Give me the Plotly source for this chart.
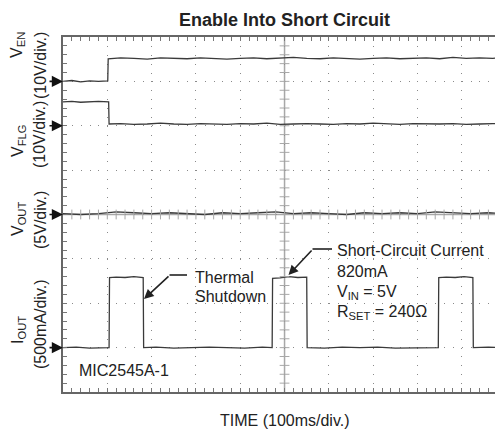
import numpy as np
import plotly.graph_objects as go

# ---------------- data (time in ms, values in physical units) ----------------
VEN_t = [0, 20, 40, 60, 80, 101, 102, 130, 160, 190, 220, 250, 280, 310, 340, 370, 400,
         430, 460, 490, 520, 550, 580, 610, 640, 670, 700, 730, 760, 790, 820, 850, 880,
         910, 940, 970, 995]
VEN_v = [0.0, 0.2, -0.1, 0.1, 0.0, 0.1,
         5.1, 5.3, 5.2, 5.0, 5.3, 5.2, 5.1, 5.3, 5.2, 5.0, 5.2, 5.3, 5.1, 5.2, 5.4,
         5.2, 5.1, 5.3, 5.2, 5.0, 5.2, 5.3, 5.1, 5.2, 5.3, 5.1, 5.4, 5.2, 5.3, 5.2, 5.3]

VFLG_t = [0, 20, 40, 60, 80, 103, 104, 130, 160, 190, 220, 250, 280, 310, 340, 370, 400,
          430, 460, 490, 520, 550, 580, 610, 640, 670, 700, 730, 760, 790, 820, 850, 880,
          910, 940, 970, 995]
VFLG_v = [5.4, 5.5, 5.3, 5.4, 5.5, 5.4,
          0.4, 0.5, 0.3, 0.4, 0.6, 0.4, 0.3, 0.5, 0.4, 0.3, 0.5, 0.4, 0.6, 0.3, 0.4,
          0.5, 0.4, 0.3, 0.5, 0.4, 0.6, 0.4, 0.3, 0.5, 0.4, 0.4, 0.5, 0.3, 0.4, 0.5, 0.4]

VOUT_t = [0, 40, 80, 120, 160, 200, 240, 280, 320, 360, 400, 440, 480, 520, 560, 600,
          640, 680, 720, 760, 800, 840, 880, 920, 960, 995]
VOUT_v = [0.1, 0.0, 0.1, 0.3, 0.2, 0.1, 0.2, 0.1, 0.0, 0.2, 0.1, 0.2, 0.3, 0.1, 0.2,
          0.1, 0.0, 0.2, 0.1, 0.2, 0.1, 0.3, 0.2, 0.1, 0.2, 0.1]

IOUT_t = [0, 30, 60, 90, 104, 105, 120, 140, 160, 181, 182, 210, 250, 290, 330, 370, 410,
          450, 472, 473, 490, 510, 530, 550, 551, 590, 630, 670, 710, 750, 790, 830, 847,
          848, 865, 885, 905, 925, 926, 960, 995]
IOUT_v = [0, 5, -5, 0, 0, 790, 795, 790, 800, 790, 0, 5, -5, 0, 5, 0, -5, 5, 0, 780,
          785, 800, 790, 795, 0, -5, 5, 0, 5, -5, 0, 5, 0, 790, 795, 790, 800, 790, 0, 5, 0]

# channel ground levels (divisions from bottom) and scales (units / div)
VEN_GND, VEN_SCALE = 7, 10.0
VFLG_GND, VFLG_SCALE = 6, 10.0
VOUT_GND, VOUT_SCALE = 4, 5.0
IOUT_GND, IOUT_SCALE = 1, 500.0

X_RANGE = [0, 993]
Y_RANGE = [0, 8]

FONT = "Liberation Sans, Arial, sans-serif"
TRACE_COLOR = "#3a3a3a"
TEXT_COLOR = "#222222"

fig = go.Figure()

def to_div(vals, gnd, scale):
    return [gnd + v / scale for v in vals]

for t, v, g, s in [(VEN_t, VEN_v, VEN_GND, VEN_SCALE),
                   (VFLG_t, VFLG_v, VFLG_GND, VFLG_SCALE),
                   (VOUT_t, VOUT_v, VOUT_GND, VOUT_SCALE),
                   (IOUT_t, IOUT_v, IOUT_GND, IOUT_SCALE)]:
    fig.add_trace(go.Scatter(x=t, y=to_div(v, g, s), mode="lines",
                             line=dict(color=TRACE_COLOR, width=1.3),
                             hoverinfo="skip", showlegend=False))

# center crosshair lines with small ticks
fig.add_shape(type="line", x0=500, x1=500, y0=0, y1=8, xref="x", yref="y",
              line=dict(color="#a8a8a8", width=1.5), layer="below")
fig.add_shape(type="line", x0=0, x1=X_RANGE[1], y0=4, y1=4, xref="x", yref="y",
              line=dict(color="#a8a8a8", width=1.5), layer="below")
cy = np.arange(0.2, 8.0, 0.2)
fig.add_trace(go.Scatter(x=[500] * len(cy), y=cy, mode="markers",
                         marker=dict(symbol="line-ew", size=7,
                                     line=dict(color="#a8a8a8", width=1)),
                         hoverinfo="skip", showlegend=False))
cx = np.arange(20, X_RANGE[1], 20)
fig.add_trace(go.Scatter(x=cx, y=[4] * len(cx), mode="markers",
                         marker=dict(symbol="line-ns", size=7,
                                     line=dict(color="#a8a8a8", width=1)),
                         hoverinfo="skip", showlegend=False))

# the page body has an 8px margin: figure is sized to fit the 503x430 window
OFF = 8
W, H = 503 - OFF, 430 - OFF
ML, MR, MT, MB = 63 - OFF, 0, 37 - OFF, H - (392 - OFF)
PW, PH = W - ML - MR, H - MT - MB

def px(xp):  # page pixel x -> paper fraction
    return (xp - OFF - ML) / PW

def py(yp):  # page pixel y -> paper fraction
    return (H - MB - (yp - OFF)) / PH

ann = []
# ground arrows on the left
for g in [VEN_GND, VFLG_GND, VOUT_GND, IOUT_GND]:
    ann.append(dict(x=0, y=g, xref="x", yref="y", text="", showarrow=True,
                    ax=-15, ay=0, arrowhead=2, arrowsize=1.4, arrowwidth=1.6,
                    arrowcolor="#111111"))

# rotated y labels
ylab = [("V<sub>EN</sub>", 18, 45), ("(10V/div.)", 40, 66),
        ("V<sub>FLG</sub>", 18, 141), ("(10V/div.)", 40, 135),
        ("V<sub>OUT</sub>", 18, 219), ("(5V/div.)", 40, 220),
        ("I<sub>OUT</sub>", 18, 330), ("(500mA/div.)", 40, 324)]
for txt, xx, yy in ylab:
    ann.append(dict(x=px(xx), y=py(yy), xref="paper", yref="paper", text=txt,
                    textangle=-90, showarrow=False, xanchor="center", yanchor="middle",
                    font=dict(family=FONT, size=16, color=TEXT_COLOR)))

# title and x label
ann.append(dict(x=px(284), y=py(20), xref="paper", yref="paper",
                text="<b>Enable Into Short Circuit</b>", showarrow=False,
                xanchor="center", yanchor="middle",
                font=dict(family=FONT, size=18, color=TEXT_COLOR)))
ann.append(dict(x=px(285), y=py(421), xref="paper", yref="paper",
                text="TIME (100ms/div.)", showarrow=False,
                xanchor="center", yanchor="middle",
                font=dict(family=FONT, size=16, color=TEXT_COLOR)))

# in-plot texts
texts = [("Thermal", 193, 277), ("Shutdown", 193, 296),
         ("Short-Circuit Current", 335, 250), ("820mA", 335, 271),
         ("V<sub>IN</sub> = 5V", 335, 292), ("R<sub>SET</sub> = 240Ω", 335, 312),
         ("MIC2545A-1", 77, 370)]
for txt, xx, yy in texts:
    ann.append(dict(x=px(xx), y=py(yy), xref="paper", yref="paper", text=txt,
                    showarrow=False, xanchor="left", yanchor="middle",
                    font=dict(family=FONT, size=16, color=TEXT_COLOR)))

# callout arrows
ann.append(dict(x=px(144), y=py(299), xref="paper", yref="paper", text="",
                showarrow=True, ax=26, ay=-24, arrowhead=2, arrowsize=1.2,
                arrowwidth=1.6, arrowcolor="#222222"))
ann.append(dict(x=px(288.5), y=py(275), xref="paper", yref="paper", text="",
                showarrow=True, ax=24.5, ay=-26, arrowhead=2, arrowsize=1.2,
                arrowwidth=1.6, arrowcolor="#222222"))
fig.add_shape(type="line", xref="paper", yref="paper", x0=px(169.5), x1=px(187),
              y0=py(275), y1=py(275), line=dict(color="#222222", width=1.6))
fig.add_shape(type="line", xref="paper", yref="paper", x0=px(312.5), x1=px(332),
              y0=py(249), y1=py(249), line=dict(color="#222222", width=1.6))

fig.update_layout(
    width=W, height=H, margin=dict(l=ML, r=MR, t=MT, b=MB, pad=0),
    paper_bgcolor="white", plot_bgcolor="white",
    annotations=ann, showlegend=False,
    xaxis=dict(range=X_RANGE, dtick=100, tick0=0, showticklabels=False,
               showgrid=True, gridcolor="#8a8a8a", gridwidth=1,
               griddash="1px,7.875px", zeroline=False,
               showline=True, linecolor="#666666", linewidth=1.5, mirror="allticks",
               ticks="inside", ticklen=4, tickcolor="#777777",
               minor=dict(dtick=20, tick0=0, ticks="inside", ticklen=4,
                          tickcolor="#777777", showgrid=False)),
    yaxis=dict(range=Y_RANGE, dtick=1, tick0=0, showticklabels=False,
               showgrid=True, gridcolor="#8a8a8a", gridwidth=1,
               griddash="1px,7.86px", zeroline=False,
               showline=True, linecolor="#666666", linewidth=1.5, mirror=False,
               ticks="inside", ticklen=4, tickcolor="#777777",
               minor=dict(dtick=0.2, tick0=0, ticks="inside", ticklen=4,
                          tickcolor="#777777", showgrid=False)),
)

fig.write_html("out.html")
